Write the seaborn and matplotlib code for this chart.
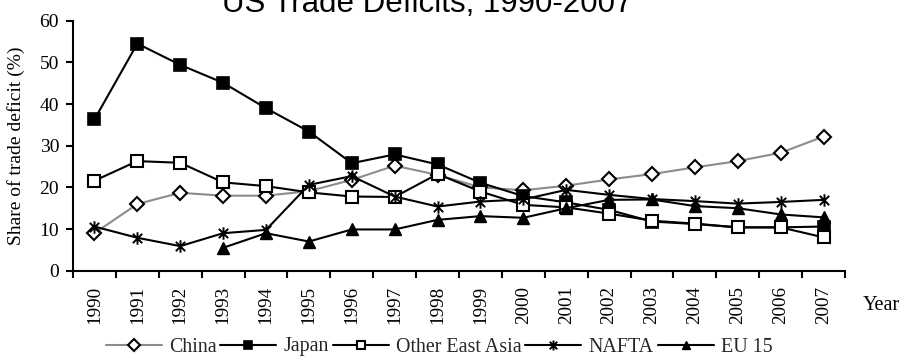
import numpy as np
import pandas as pd
import matplotlib
matplotlib.use("Agg")
import matplotlib.pyplot as plt
from matplotlib.path import Path
import seaborn as sns

years = [str(y) for y in range(1990, 2008)]

china = [9.0, 16.0, 18.7, 18.0, 18.0, 19.1, 21.8, 25.2, 23.0, 20.0, 19.3,
         20.4, 21.9, 23.2, 24.8, 26.3, 28.3, 32.2]
japan = [36.3, 54.5, 49.4, 45.1, 39.0, 33.4, 25.8, 27.9, 25.5, 21.1, 17.9,
         16.4, 14.6, 11.8, 11.2, 10.4, 10.4, 10.6]
other_east_asia = [21.6, 26.3, 25.9, 21.2, 20.3, 18.8, 17.8, 17.7, 23.2, 19.0, 15.8,
                   15.2, 13.7, 12.0, 11.3, 10.4, 10.4, 8.0]
nafta = [10.6, 7.9, 5.9, 9.0, 9.8, 20.6, 22.7, 17.8, 15.4, 16.6, 17.1,
         19.4, 18.2, 17.2, 16.7, 16.1, 16.5, 17.0]
eu15 = [np.nan, np.nan, np.nan, 5.5, 9.0, 7.0, 9.9, 9.9, 12.2, 13.1, 12.7,
        15.0, 17.0, 17.1, 15.5, 15.0, 13.5, 12.8]

series_names = ["China", "Japan", "Other East Asia", "NAFTA", "EU 15"]
series_values = [china, japan, other_east_asia, nafta, eu15]

# asterisk marker: vertical stroke plus an X
star_path = Path(
    [(0, -1), (0, 1), (-0.75, -0.75), (0.75, 0.75), (-0.75, 0.75), (0.75, -0.75)],
    [Path.MOVETO, Path.LINETO, Path.MOVETO, Path.LINETO, Path.MOVETO, Path.LINETO],
)

styles = {
    "China": dict(color="#8c8c8c", marker="D", ms=7.5, mfc="white", mec="black", mew=1.5),
    "Japan": dict(color="black", marker="s", ms=8.0, mfc="black", mec="black", mew=1.2),
    "Other East Asia": dict(color="black", marker="s", ms=8.0, mfc="white", mec="black", mew=1.5),
    "NAFTA": dict(color="black", marker=star_path, ms=9.0, mfc="black", mec="black", mew=1.4),
    "EU 15": dict(color="black", marker="^", ms=8.0, mfc="black", mec="black", mew=1.0),
}

rows = []
for name, vals in zip(series_names, series_values):
    for i, v in enumerate(vals):
        rows.append({"series": name, "idx": i, "share": v})
df = pd.DataFrame(rows)

sns.set_theme(style="white")
plt.rcParams["font.family"] = ["Liberation Serif", "DejaVu Serif"]

fig = plt.figure(figsize=(9.05, 3.56), dpi=100)
ax = fig.add_axes([73 / 905, 1 - 270.7 / 356, 772 / 905, 250 / 356])

for name in series_names:
    st = styles[name]
    sub = df[(df["series"] == name) & df["share"].notna()]
    sns.lineplot(
        data=sub, x="idx", y="share", ax=ax, color=st["color"], linewidth=1.5,
        marker=st["marker"], markersize=st["ms"], markerfacecolor=st["mfc"],
        markeredgecolor=st["mec"], markeredgewidth=st["mew"], label=name,
        legend=False,
    )

ax.set_xlim(-0.5, len(years) - 0.5)
ax.set_ylim(0, 60)
ax.set_yticks(range(0, 61, 10))
ax.set_xticks(range(len(years)))
ax.set_xticklabels(years, rotation=90)
ax.set_xticks(np.arange(-0.5, len(years), 1.0), minor=True)
ax.tick_params(axis="x", which="major", length=0, pad=11, labelsize=13.8, colors="black")
ax.tick_params(axis="x", which="minor", length=5, width=1.5, direction="out", bottom=True, color="black")
ax.tick_params(axis="y", length=5, width=1.5, direction="out", left=True, pad=5,
               labelsize=14, colors="black")

for side in ["top", "right"]:
    ax.spines[side].set_visible(False)
for side in ["left", "bottom"]:
    ax.spines[side].set_color("black")
    ax.spines[side].set_linewidth(1.5)

ax.set_xlabel("")
ax.set_ylabel("Share of trade deficit (%)", fontsize=14, color="black")
ax.yaxis.set_label_coords(-0.062, 0.5)

fig.text(863 / 905, 1 - 305 / 356, "Year", ha="left", va="center", fontsize=14.5, color="black")

fig.text(427 / 905, 1 - 12 / 356, "US Trade Deficits, 1990-2007", ha="center", va="baseline",
         fontsize=22.5, color="black", family=["Liberation Sans", "DejaVu Sans"])

handles, labels = ax.get_legend_handles_labels()
fig.legend(handles, labels, loc="center", bbox_to_anchor=(439 / 905, 1 - 347 / 356), ncol=5,
           frameon=False, fontsize=14.4, handlelength=2.8, handletextpad=0.35, columnspacing=0.2,
           markerscale=0.8, borderpad=0, borderaxespad=0)

fig.savefig("out.png", dpi=100, facecolor="white")
